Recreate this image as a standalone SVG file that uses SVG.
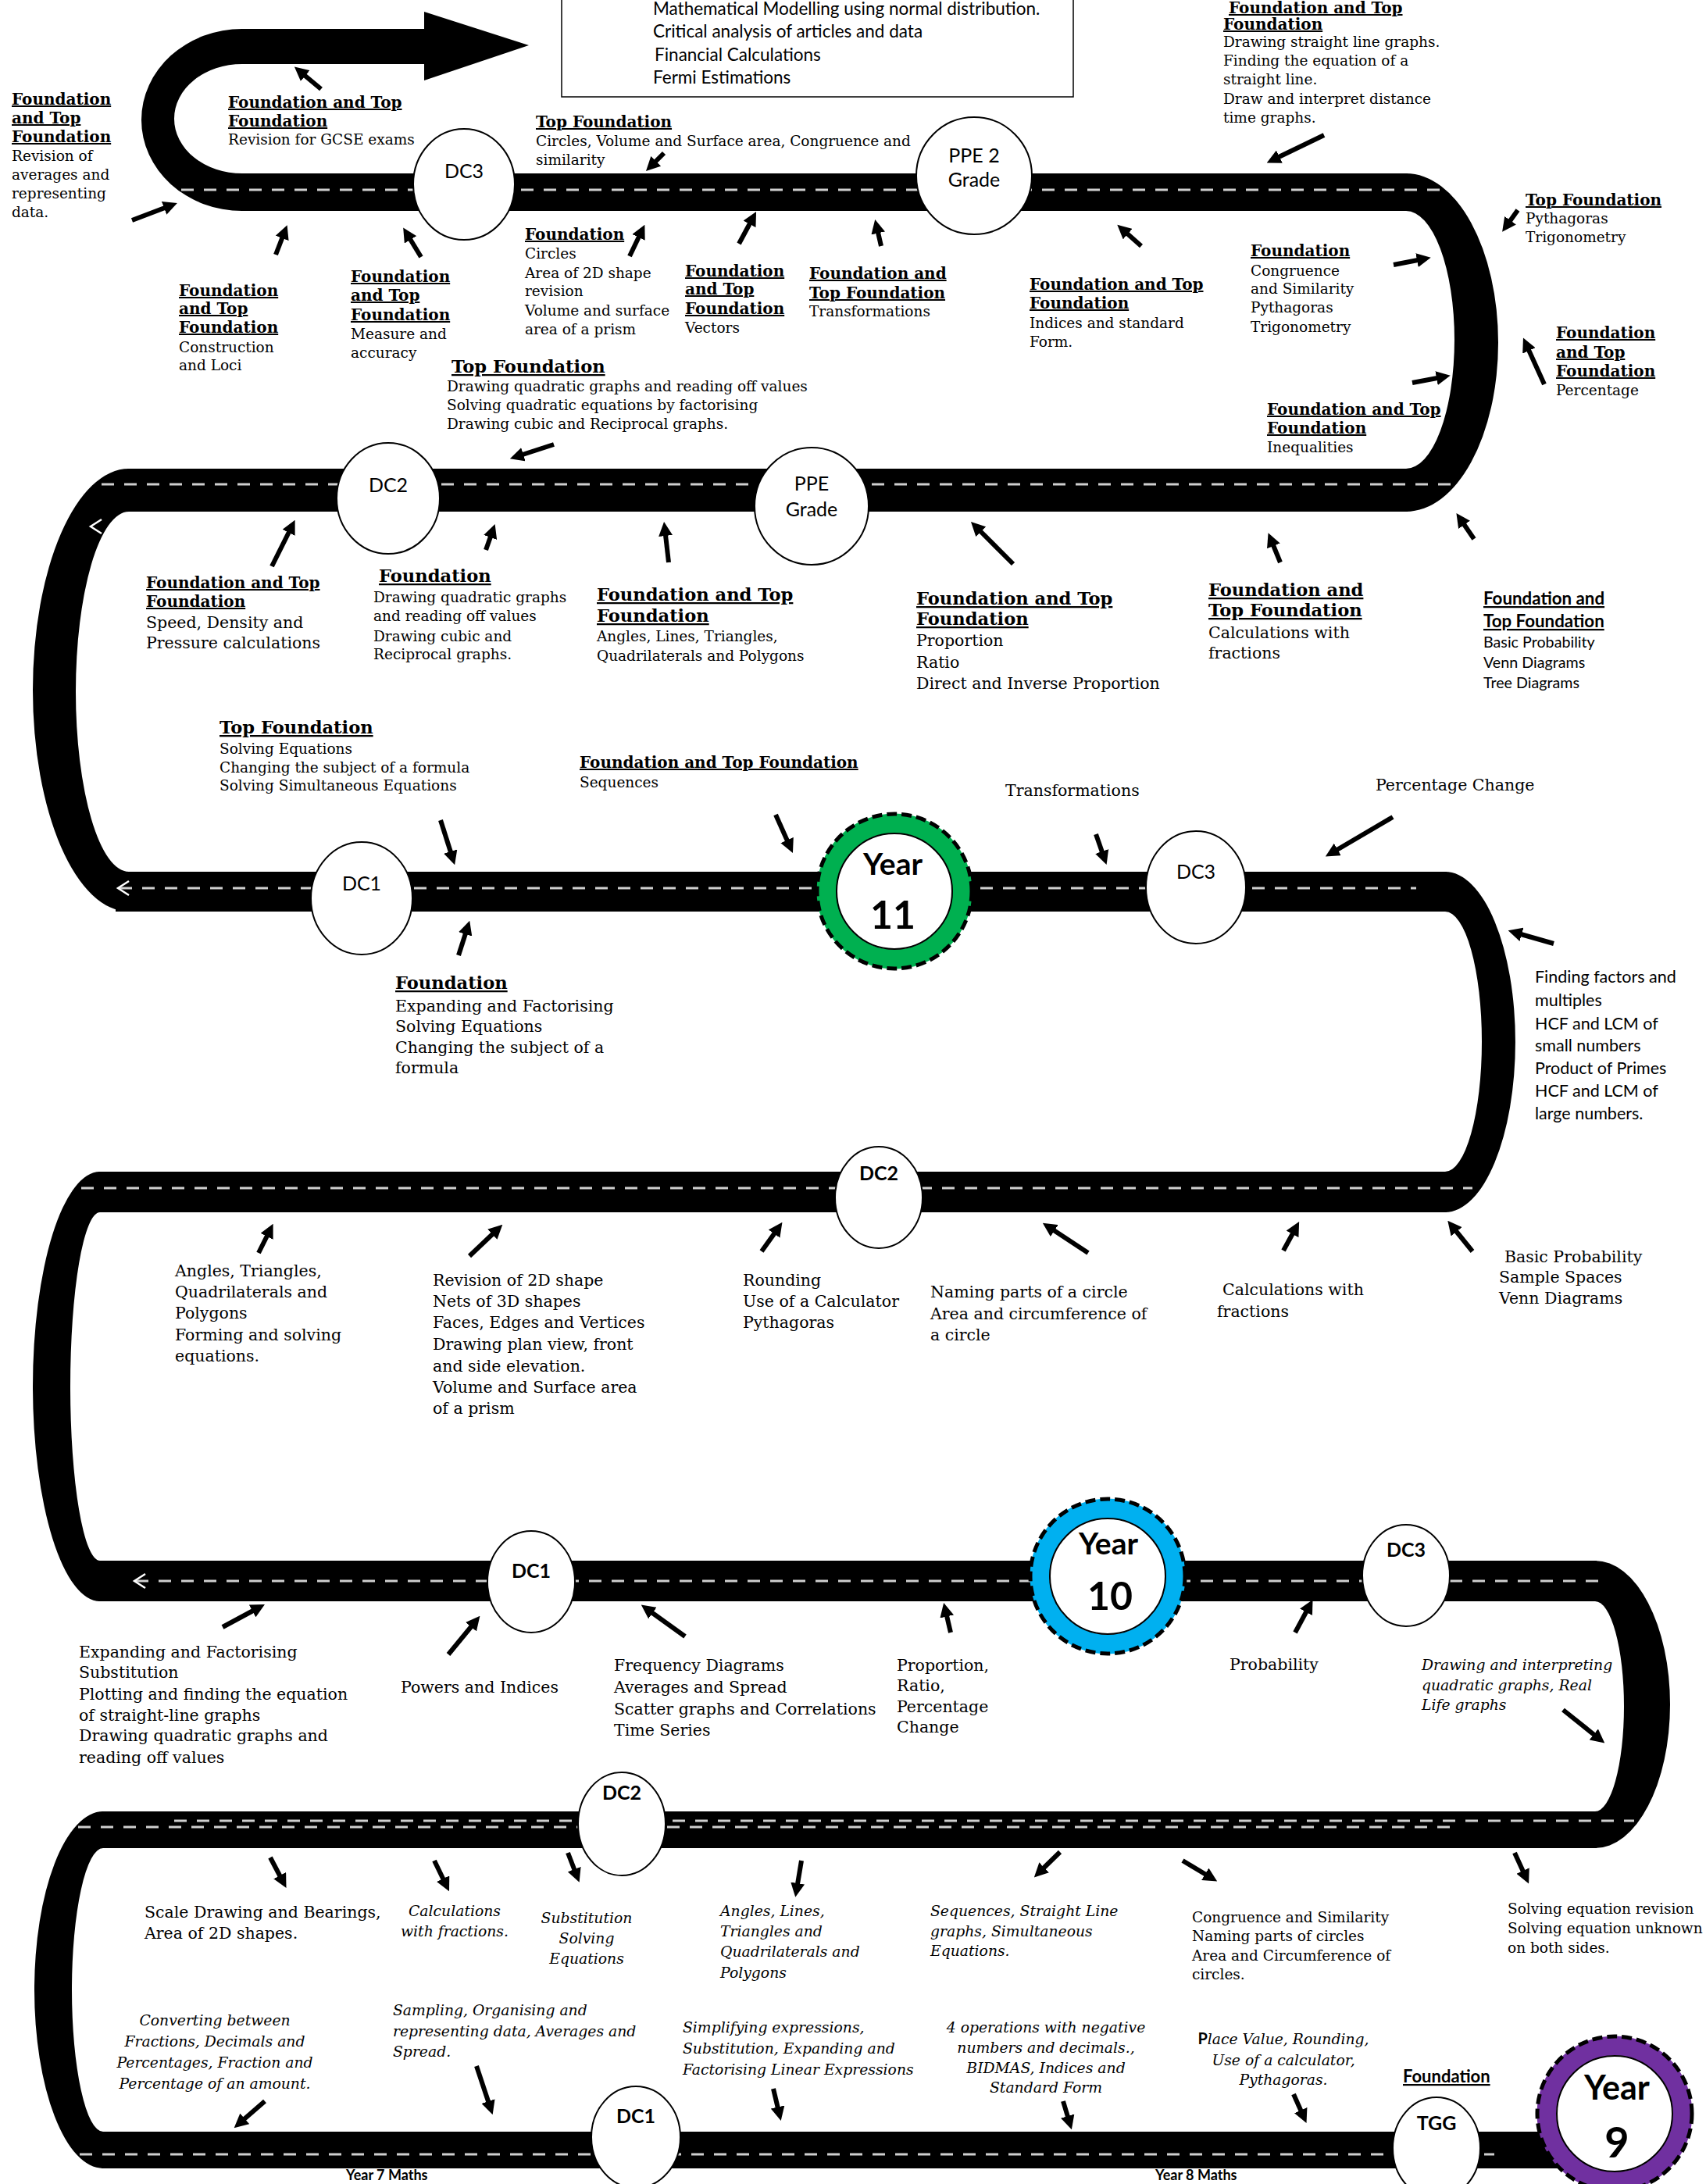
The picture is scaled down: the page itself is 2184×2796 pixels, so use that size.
<svg xmlns="http://www.w3.org/2000/svg" width="2184" height="2796" viewBox="0 0 2184 2796">
<style>
.t{font-family:"DejaVu Serif",serif;font-size:18.5px;fill:#000}
.tl{font-size:20.5px}
.h{font-weight:bold;text-decoration:underline;font-size:20px}
.hl{font-weight:bold;text-decoration:underline;font-size:22.6px}
.it{font-style:italic;font-size:18.8px}
.c{font-family:Lato,"Open Sans",sans-serif;fill:#000}
.cb{font-weight:bold;text-decoration:underline}
.nd{fill:#fff;stroke:#000;stroke-width:2}
.lb{font-family:Lato,"Open Sans",sans-serif;font-size:25px;text-anchor:middle;fill:#000}
.lbb{font-weight:bold}
.yr{font-family:Lato,"Open Sans",sans-serif;font-weight:bold;text-anchor:middle;fill:#000}
.road{fill:#000}
.dash{fill:none;stroke:#cfcfcf;stroke-width:3;stroke-dasharray:16 13}
.chev{fill:none;stroke:#fff;stroke-width:2.5}
.ar{stroke:#000;stroke-width:6;marker-end:url(#ah)}
.ring{fill:none;stroke-width:25}
.rd{fill:none;stroke:#000;stroke-width:5;stroke-dasharray:13 6}
</style>
<defs>
<marker id="ah" viewBox="0 0 18 18" refX="1" refY="9" markerWidth="18" markerHeight="18" markerUnits="userSpaceOnUse" orient="auto"><path d="M0,0 L18,9 L0,18 Z" fill="#000"/></marker>
</defs>
<rect width="2184" height="2796" fill="#fff"/>

<g id="road">
<path class="road" d="M310,37 A129,116.5 0 0 0 310,270 L310,222 A87,70 0 0 1 310,82 Z"/>
<rect class="road" x="308" y="37" width="237" height="45"/>
<polygon class="road" points="543,15 677,58 543,103"/>
<rect class="road" x="308" y="222" width="1494" height="48"/>
<path class="road" d="M1800,222 A118,216.5 0 0 1 1800,655 L1800,600 A62,165 0 0 0 1800,270 Z"/>
<rect class="road" x="163" y="600" width="1639" height="55"/>
<path class="road" d="M165,600 A123,283.5 0 0 0 165,1167 L165,1116 A68,230.5 0 0 1 165,655 Z"/>
<rect class="road" x="148" y="1116" width="1704" height="51"/>
<path class="road" d="M1850,1116 A90,218 0 0 1 1850,1552 L1850,1500 A47,166.5 0 0 0 1850,1167 Z"/>
<rect class="road" x="126" y="1500" width="1726" height="52"/>
<path class="road" d="M128,1500 A86,275 0 0 0 128,2050 L128,1998 A38,223 0 0 1 128,1552 Z"/>
<rect class="road" x="126" y="1998" width="1918" height="52"/>
<path class="road" d="M2042,1998 A96,184 0 0 1 2042,2366 L2042,2319 A37,134.5 0 0 0 2042,2050 Z"/>
<rect class="road" x="130" y="2319" width="1914" height="47"/>
<path class="road" d="M132,2319 A88,228.5 0 0 0 132,2776 L132,2729 A40,181.5 0 0 1 132,2366 Z"/>
<rect class="road" x="130" y="2729" width="1940" height="47"/>
<line class="dash" x1="232" y1="243" x2="1846" y2="243"/>
<line class="dash" x1="130" y1="620" x2="1860" y2="620"/>
<line class="dash" x1="153" y1="1137" x2="1813" y2="1137"/>
<line class="dash" x1="104" y1="1521" x2="1885" y2="1521"/>
<line class="dash" x1="174" y1="2024" x2="2055" y2="2024"/>
<line class="dash" x1="223" y1="2331" x2="2092" y2="2331"/>
<line class="dash" x1="100" y1="2339" x2="1869" y2="2339"/>
<line class="dash" x1="102" y1="2758" x2="1913" y2="2758"/>
<path class="chev" d="M130,665 L116,674 L130,683"/>
<path class="chev" d="M165,1128 L151,1137 L165,1146"/>
<path class="chev" d="M186,2015 L172,2024 L186,2033"/>
</g>

<g id="enrichment-box">
<rect x="719" y="-4" width="655" height="128" fill="#fff" stroke="#000" stroke-width="1.5"/>
<text class="c" font-size="22.5">
<tspan x="836" y="19">Mathematical Modelling using normal distribution.</tspan>
<tspan x="836" y="48">Critical analysis of articles and data</tspan>
<tspan x="838" y="78">Financial Calculations</tspan>
<tspan x="836" y="107">Fermi Estimations</tspan>
</text>
</g>

<g id="nodes-circles">
<g id="dc3-y11-top"><ellipse class="nd" cx="594" cy="236" rx="65" ry="71"/><text class="lb" x="594" y="228">DC3</text></g>
<g id="ppe2"><ellipse class="nd" cx="1247" cy="225" rx="74" ry="75"/><text class="lb" font-size="22" x="1247" y="208">PPE 2</text><text class="lb" font-size="22" x="1247" y="239">Grade</text></g>
<g id="dc2-y11"><ellipse class="nd" cx="497" cy="638" rx="66" ry="71"/><text class="lb" x="497" y="630">DC2</text></g>
<g id="ppe"><ellipse class="nd" cx="1039" cy="648" rx="73" ry="75"/><text class="lb" font-size="22" x="1039" y="628">PPE</text><text class="lb" font-size="22" x="1039" y="661">Grade</text></g>
<g id="dc1-y11"><ellipse class="nd" cx="463" cy="1150" rx="65" ry="72"/><text class="lb" x="463" y="1140">DC1</text></g>
<g id="dc3-y10"><ellipse class="nd" cx="1531" cy="1136" rx="64" ry="72"/><text class="lb" x="1531" y="1125">DC3</text></g>
<g id="dc2-y10"><ellipse class="nd" cx="1125" cy="1533" rx="56" ry="65"/><text class="lb lbb" x="1125" y="1511">DC2</text></g>
<g id="dc1-y10"><ellipse class="nd" cx="680" cy="2025" rx="56" ry="65"/><text class="lb lbb" x="680" y="2020">DC1</text></g>
<g id="dc3-y9"><ellipse class="nd" cx="1800" cy="2017" rx="56" ry="65"/><text class="lb lbb" x="1800" y="1993">DC3</text></g>
<g id="dc2-y9"><ellipse class="nd" cx="796" cy="2335" rx="56" ry="66"/><text class="lb lbb" x="796" y="2304">DC2</text></g>
<g id="dc1-y9"><ellipse class="nd" cx="814" cy="2736" rx="57" ry="65"/><text class="lb lbb" x="814" y="2718">DC1</text></g>
<g id="tgg"><ellipse class="nd" cx="1839" cy="2750" rx="56" ry="65"/><text class="lb lbb" x="1839" y="2727">TGG</text></g>
<g id="year11"><circle class="ring" cx="1145" cy="1141" r="87" stroke="#00B050"/><circle class="nd" cx="1145" cy="1141" r="74"/><circle class="rd" cx="1145" cy="1141" r="99"/><text class="yr" font-size="39" x="1143" y="1120">Year</text><text class="yr" font-size="50" x="1143" y="1189">11</text></g>
<g id="year10"><circle class="ring" cx="1418" cy="2018" r="87" stroke="#00B0F0"/><circle class="nd" cx="1418" cy="2018" r="74"/><circle class="rd" cx="1418" cy="2018" r="99"/><text class="yr" font-size="39" x="1419" y="1990">Year</text><text class="yr" font-size="50" x="1421" y="2061">10</text></g>
<g id="year9"><circle class="ring" cx="2067" cy="2706" r="87" stroke="#7030A0"/><circle class="nd" cx="2067" cy="2706" r="74"/><circle class="rd" cx="2067" cy="2706" r="99"/><text class="yr" font-size="43" x="2070" y="2688">Year</text><text class="yr" font-size="54" x="2070" y="2762">9</text></g>
</g>

<g id="topics">
<g id="n1"><text class="t"><tspan class="h" x="15" y="134">Foundation</tspan><tspan class="h" x="15" y="158">and Top</tspan><tspan class="h" x="15" y="182">Foundation</tspan><tspan x="15" y="206">Revision of</tspan><tspan x="15" y="230">averages and</tspan><tspan x="15" y="254">representing</tspan><tspan x="15" y="278">data.</tspan></text></g>
<g id="n2"><text class="t"><tspan class="h" x="292" y="138">Foundation and Top</tspan><tspan class="h" x="292" y="162">Foundation</tspan><tspan x="292" y="185">Revision for GCSE exams</tspan></text></g>
<g id="n3"><text class="t"><tspan class="h" x="229" y="379">Foundation</tspan><tspan class="h" x="229" y="402">and Top</tspan><tspan class="h" x="229" y="426">Foundation</tspan><tspan x="229" y="451">Construction</tspan><tspan x="229" y="474">and Loci</tspan></text></g>
<g id="n4"><text class="t"><tspan class="h" x="449" y="361">Foundation</tspan><tspan class="h" x="449" y="385">and Top</tspan><tspan class="h" x="449" y="410">Foundation</tspan><tspan x="449" y="434">Measure and</tspan><tspan x="449" y="458">accuracy</tspan></text></g>
<g id="n5"><text class="t"><tspan class="h" x="686" y="163">Top Foundation</tspan><tspan x="686" y="187">Circles, Volume and Surface area, Congruence and</tspan><tspan x="686" y="211">similarity</tspan></text></g>
<g id="n6"><text class="t"><tspan class="h" x="672" y="307">Foundation</tspan><tspan x="672" y="331">Circles</tspan><tspan x="672" y="356">Area of 2D shape</tspan><tspan x="672" y="379">revision</tspan><tspan x="672" y="404">Volume and surface</tspan><tspan x="672" y="428">area of a prism</tspan></text></g>
<g id="n7"><text class="t"><tspan class="h" x="877" y="354">Foundation</tspan><tspan class="h" x="877" y="377">and Top</tspan><tspan class="h" x="877" y="402">Foundation</tspan><tspan x="877" y="426">Vectors</tspan></text></g>
<g id="n8"><text class="t"><tspan class="h" x="1036" y="357">Foundation and</tspan><tspan class="h" x="1036" y="382">Top Foundation</tspan><tspan x="1036" y="405">Transformations</tspan></text></g>
<g id="n9"><text class="t"><tspan class="h" x="1318" y="371">Foundation and Top</tspan><tspan class="h" x="1318" y="395">Foundation</tspan><tspan x="1318" y="420">Indices and standard</tspan><tspan x="1318" y="444">Form.</tspan></text></g>
<g id="n10"><text class="t"><tspan class="hl" x="578" y="477">Top Foundation</tspan><tspan x="572" y="501">Drawing quadratic graphs and reading off values</tspan><tspan x="572" y="525">Solving quadratic equations by factorising</tspan><tspan x="572" y="549">Drawing cubic and Reciprocal graphs.</tspan></text></g>
<g id="n11"><text class="t"><tspan class="h" x="1573" y="17">Foundation and Top</tspan><tspan class="h" x="1566" y="38">Foundation</tspan><tspan x="1566" y="60">Drawing straight line graphs.</tspan><tspan x="1566" y="84">Finding the equation of a</tspan><tspan x="1566" y="108">straight line.</tspan><tspan x="1566" y="133">Draw and interpret distance</tspan><tspan x="1566" y="157">time graphs.</tspan></text></g>
<g id="n12"><text class="t"><tspan class="h" x="1953" y="263">Top Foundation</tspan><tspan x="1953" y="286">Pythagoras</tspan><tspan x="1953" y="310">Trigonometry</tspan></text></g>
<g id="n13"><text class="t"><tspan class="h" x="1601" y="328">Foundation</tspan><tspan x="1601" y="353">Congruence</tspan><tspan x="1601" y="376">and Similarity</tspan><tspan x="1601" y="400">Pythagoras</tspan><tspan x="1601" y="425">Trigonometry</tspan></text></g>
<g id="n14"><text class="t"><tspan class="h" x="1992" y="433">Foundation</tspan><tspan class="h" x="1992" y="458">and Top</tspan><tspan class="h" x="1992" y="482">Foundation</tspan><tspan x="1992" y="506">Percentage</tspan></text></g>
<g id="n15"><text class="t"><tspan class="h" x="1622" y="531">Foundation and Top</tspan><tspan class="h" x="1622" y="555">Foundation</tspan><tspan x="1622" y="579">Inequalities</tspan></text></g>
<g id="n16"><text class="t"><tspan class="h" x="187" y="753">Foundation and Top</tspan><tspan class="h" x="187" y="777">Foundation</tspan><tspan class="tl" x="187" y="804">Speed, Density and</tspan><tspan class="tl" x="187" y="830">Pressure calculations</tspan></text></g>
<g id="n17"><text class="t"><tspan class="hl" x="485" y="745">Foundation</tspan><tspan x="478" y="771">Drawing quadratic graphs</tspan><tspan x="478" y="795">and reading off values</tspan><tspan x="478" y="821">Drawing cubic and</tspan><tspan x="478" y="844">Reciprocal graphs.</tspan></text></g>
<g id="n18"><text class="t"><tspan class="hl" x="281" y="939">Top Foundation</tspan><tspan x="281" y="965">Solving Equations</tspan><tspan x="281" y="989">Changing the subject of a formula</tspan><tspan x="281" y="1012">Solving Simultaneous Equations</tspan></text></g>
<g id="n19"><text class="t"><tspan class="hl" x="506" y="1266">Foundation</tspan><tspan class="tl" x="506" y="1295">Expanding and Factorising</tspan><tspan class="tl" x="506" y="1321">Solving Equations</tspan><tspan class="tl" x="506" y="1348">Changing the subject of a</tspan><tspan class="tl" x="506" y="1374">formula</tspan></text></g>
<g id="n20"><text class="t"><tspan class="hl" x="764" y="769">Foundation and Top</tspan><tspan class="hl" x="764" y="796">Foundation</tspan><tspan x="764" y="821">Angles, Lines, Triangles,</tspan><tspan x="764" y="846">Quadrilaterals and Polygons</tspan></text></g>
<g id="n21"><text class="t"><tspan class="hl" x="1173" y="774">Foundation and Top</tspan><tspan class="hl" x="1173" y="800">Foundation</tspan><tspan class="tl" x="1173" y="827">Proportion</tspan><tspan class="tl" x="1173" y="855">Ratio</tspan><tspan class="tl" x="1173" y="882">Direct and Inverse Proportion</tspan></text></g>
<g id="n22"><text class="t"><tspan class="h" x="742" y="983">Foundation and Top Foundation</tspan><tspan x="742" y="1008">Sequences</tspan></text></g>
<g id="n23"><text class="t tl" x="1287" y="1019">Transformations</text></g>
<g id="n24"><text class="t"><tspan class="hl" x="1547" y="763">Foundation and</tspan><tspan class="hl" x="1547" y="789">Top Foundation</tspan><tspan class="tl" x="1547" y="817">Calculations with</tspan><tspan class="tl" x="1547" y="843">fractions</tspan></text></g>
<g id="n25"><text class="c" font-size="19.7"><tspan class="cb" font-size="22.3" x="1899" y="774">Foundation and</tspan><tspan class="cb" font-size="22.3" x="1899" y="803">Top Foundation</tspan><tspan x="1899" y="829">Basic Probability</tspan><tspan x="1899" y="855">Venn Diagrams</tspan><tspan x="1899" y="881">Tree Diagrams</tspan></text></g>
<g id="n26"><text class="t tl" x="1761" y="1012">Percentage Change</text></g>
<g id="n27"><text class="c" font-size="21.5"><tspan x="1965" y="1258">Finding factors and</tspan><tspan x="1965" y="1288">multiples</tspan><tspan x="1965" y="1318">HCF and LCM of</tspan><tspan x="1965" y="1346">small numbers</tspan><tspan x="1965" y="1375">Product of Primes</tspan><tspan x="1965" y="1404">HCF and LCM of</tspan><tspan x="1965" y="1433">large numbers.</tspan></text></g>
<g id="n28"><text class="t tl"><tspan x="224" y="1634">Angles, Triangles,</tspan><tspan x="224" y="1661">Quadrilaterals and</tspan><tspan x="224" y="1688">Polygons</tspan><tspan x="224" y="1716">Forming and solving</tspan><tspan x="224" y="1743">equations.</tspan></text></g>
<g id="n29"><text class="t tl"><tspan x="554" y="1646">Revision of 2D shape</tspan><tspan x="554" y="1673">Nets of 3D shapes</tspan><tspan x="554" y="1700">Faces, Edges and Vertices</tspan><tspan x="554" y="1728">Drawing plan view, front</tspan><tspan x="554" y="1756">and side elevation.</tspan><tspan x="554" y="1783">Volume and Surface area</tspan><tspan x="554" y="1810">of a prism</tspan></text></g>
<g id="n30"><text class="t tl"><tspan x="951" y="1646">Rounding</tspan><tspan x="951" y="1673">Use of a Calculator</tspan><tspan x="951" y="1700">Pythagoras</tspan></text></g>
<g id="n31"><text class="t tl"><tspan x="1191" y="1661">Naming parts of a circle</tspan><tspan x="1191" y="1689">Area and circumference of</tspan><tspan x="1191" y="1716">a circle</tspan></text></g>
<g id="n32"><text class="t tl"><tspan x="1565" y="1658">Calculations with</tspan><tspan x="1558" y="1686">fractions</tspan></text></g>
<g id="n33"><text class="t tl"><tspan x="1926" y="1616">Basic Probability</tspan><tspan x="1919" y="1642">Sample Spaces</tspan><tspan x="1919" y="1669">Venn Diagrams</tspan></text></g>
<g id="n34"><text class="t tl"><tspan x="101" y="2122">Expanding and Factorising</tspan><tspan x="101" y="2148">Substitution</tspan><tspan x="101" y="2176">Plotting and finding the equation</tspan><tspan x="101" y="2203">of straight-line graphs</tspan><tspan x="101" y="2229">Drawing quadratic graphs and</tspan><tspan x="101" y="2257">reading off values</tspan></text></g>
<g id="n35"><text class="t tl" x="513" y="2167">Powers and Indices</text></g>
<g id="n36"><text class="t tl"><tspan x="786" y="2139">Frequency Diagrams</tspan><tspan x="786" y="2167">Averages and Spread</tspan><tspan x="786" y="2195">Scatter graphs and Correlations</tspan><tspan x="786" y="2222">Time Series</tspan></text></g>
<g id="n37"><text class="t tl"><tspan x="1148" y="2139">Proportion,</tspan><tspan x="1148" y="2165">Ratio,</tspan><tspan x="1148" y="2192">Percentage</tspan><tspan x="1148" y="2218">Change</tspan></text></g>
<g id="n38"><text class="t tl" x="1574" y="2138">Probability</text></g>
<g id="n39"><text class="t it"><tspan x="1820" y="2138">Drawing and interpreting</tspan><tspan x="1820" y="2164">quadratic graphs, Real</tspan><tspan x="1820" y="2189">Life graphs</tspan></text></g>
<g id="n40"><text class="t tl"><tspan x="185" y="2455">Scale Drawing and Bearings,</tspan><tspan x="185" y="2482">Area of 2D shapes.</tspan></text></g>
<g id="n41"><text class="t it" text-anchor="middle"><tspan x="582" y="2453">Calculations</tspan><tspan x="582" y="2479">with fractions.</tspan></text></g>
<g id="n42"><text class="t it" text-anchor="middle"><tspan x="751" y="2462">Substitution</tspan><tspan x="751" y="2488">Solving</tspan><tspan x="751" y="2514">Equations</tspan></text></g>
<g id="n43"><text class="t it"><tspan x="922" y="2453">Angles, Lines,</tspan><tspan x="922" y="2479">Triangles and</tspan><tspan x="922" y="2505">Quadrilaterals and</tspan><tspan x="922" y="2532">Polygons</tspan></text></g>
<g id="n44"><text class="t it"><tspan x="1191" y="2453">Sequences, Straight Line</tspan><tspan x="1191" y="2479">graphs, Simultaneous</tspan><tspan x="1191" y="2504">Equations.</tspan></text></g>
<g id="n45"><text class="t"><tspan x="1526" y="2461">Congruence and Similarity</tspan><tspan x="1526" y="2485">Naming parts of circles</tspan><tspan x="1526" y="2510">Area and Circumference of</tspan><tspan x="1526" y="2534">circles.</tspan></text></g>
<g id="n46"><text class="t"><tspan x="1930" y="2450">Solving equation revision</tspan><tspan x="1930" y="2475">Solving equation unknown</tspan><tspan x="1930" y="2500">on both sides.</tspan></text></g>
<g id="n47"><text class="t it" text-anchor="middle"><tspan x="275" y="2593">Converting between</tspan><tspan x="275" y="2620">Fractions, Decimals and</tspan><tspan x="275" y="2647">Percentages, Fraction and</tspan><tspan x="275" y="2674">Percentage of an amount.</tspan></text></g>
<g id="n48"><text class="t it"><tspan x="503" y="2580">Sampling, Organising and</tspan><tspan x="503" y="2607">representing data, Averages and</tspan><tspan x="503" y="2633">Spread.</tspan></text></g>
<g id="n49"><text class="t it"><tspan x="874" y="2602">Simplifying expressions,</tspan><tspan x="874" y="2629">Substitution, Expanding and</tspan><tspan x="874" y="2656">Factorising Linear Expressions</tspan></text></g>
<g id="n50"><text class="t it" text-anchor="middle"><tspan x="1339" y="2602">4 operations with negative</tspan><tspan x="1339" y="2628">numbers and decimals.,</tspan><tspan x="1339" y="2654">BIDMAS, Indices and</tspan><tspan x="1339" y="2679">Standard Form</tspan></text></g>
<g id="n51"><text class="t it" text-anchor="middle"><tspan x="1643" y="2617"><tspan class="c" font-weight="bold" font-style="normal" font-size="20">P</tspan>lace Value, Rounding,</tspan><tspan x="1643" y="2644">Use of a calculator,</tspan><tspan x="1643" y="2669">Pythagoras.</tspan></text></g>
<g id="n52"><text class="c cb" font-size="22" x="1796" y="2666">Foundation</text></g>
<g id="n53"><text class="c" font-weight="bold" font-size="18" x="443" y="2791">Year 7 Maths</text></g>
<g id="n54"><text class="c" font-weight="bold" font-size="18" x="1479" y="2791">Year 8 Maths</text></g>
</g>

<g id="connectors">
<line class="ar" x1="411" y1="114" x2="390" y2="96.5"/>
<line class="ar" x1="169" y1="282" x2="211" y2="266"/>
<line class="ar" x1="353" y1="326" x2="361.5" y2="304"/>
<line class="ar" x1="539" y1="329" x2="525" y2="306"/>
<line class="ar" x1="850" y1="196" x2="839" y2="207"/>
<line class="ar" x1="806" y1="328" x2="818" y2="303"/>
<line class="ar" x1="946" y1="312" x2="960" y2="286"/>
<line class="ar" x1="1128" y1="315" x2="1124" y2="297.5"/>
<line class="ar" x1="1461" y1="315" x2="1443" y2="299"/>
<line class="ar" x1="1695" y1="173" x2="1637" y2="201"/>
<line class="ar" x1="1943" y1="269" x2="1933" y2="283"/>
<line class="ar" x1="1784" y1="339" x2="1815" y2="333"/>
<line class="ar" x1="1808" y1="490" x2="1840" y2="484"/>
<line class="ar" x1="1977" y1="492" x2="1957" y2="448"/>
<line class="ar" x1="1887" y1="690" x2="1874" y2="671"/>
<line class="ar" x1="1639" y1="720" x2="1630" y2="698"/>
<line class="ar" x1="348" y1="725" x2="370" y2="681"/>
<line class="ar" x1="622" y1="704" x2="628" y2="687"/>
<line class="ar" x1="709" y1="569" x2="669" y2="582"/>
<line class="ar" x1="856" y1="720" x2="852" y2="685"/>
<line class="ar" x1="1297" y1="722" x2="1255" y2="680"/>
<line class="ar" x1="564" y1="1050" x2="577" y2="1091"/>
<line class="ar" x1="587" y1="1223" x2="596" y2="1195"/>
<line class="ar" x1="993" y1="1043" x2="1008" y2="1076.5"/>
<line class="ar" x1="1403" y1="1068" x2="1411" y2="1091"/>
<line class="ar" x1="1783" y1="1046" x2="1711.5" y2="1088"/>
<line class="ar" x1="1989" y1="1208" x2="1947" y2="1196"/>
<line class="ar" x1="331" y1="1604" x2="342" y2="1582"/>
<line class="ar" x1="601" y1="1608" x2="631" y2="1579.5"/>
<line class="ar" x1="975" y1="1602" x2="991.6" y2="1578.7"/>
<line class="ar" x1="1393" y1="1604" x2="1349" y2="1575"/>
<line class="ar" x1="1643" y1="1601" x2="1655" y2="1579"/>
<line class="ar" x1="1885" y1="1602" x2="1864" y2="1576"/>
<line class="ar" x1="285" y1="2083" x2="324" y2="2062"/>
<line class="ar" x1="574" y1="2118" x2="603.6" y2="2082"/>
<line class="ar" x1="877" y1="2095" x2="834.6" y2="2064.5"/>
<line class="ar" x1="1217" y1="2090" x2="1212" y2="2068.5"/>
<line class="ar" x1="1658" y1="2090" x2="1672.5" y2="2063"/>
<line class="ar" x1="2001" y1="2189" x2="2041" y2="2221"/>
<line class="ar" x1="346" y1="2378" x2="358.6" y2="2402"/>
<line class="ar" x1="556" y1="2382" x2="567.6" y2="2406"/>
<line class="ar" x1="727" y1="2372" x2="735.5" y2="2394"/>
<line class="ar" x1="1026" y1="2382" x2="1021" y2="2412"/>
<line class="ar" x1="1357" y1="2371" x2="1336" y2="2391.5"/>
<line class="ar" x1="1514" y1="2382" x2="1543.6" y2="2399.7"/>
<line class="ar" x1="1939" y1="2372" x2="1950" y2="2396"/>
<line class="ar" x1="339" y1="2690" x2="312.5" y2="2713"/>
<line class="ar" x1="610" y1="2645" x2="625.3" y2="2691"/>
<line class="ar" x1="990" y1="2674" x2="995.8" y2="2698.5"/>
<line class="ar" x1="1361" y1="2690" x2="1367" y2="2710"/>
<line class="ar" x1="1656" y1="2681" x2="1665.6" y2="2702.5"/>
</g>
</svg>
